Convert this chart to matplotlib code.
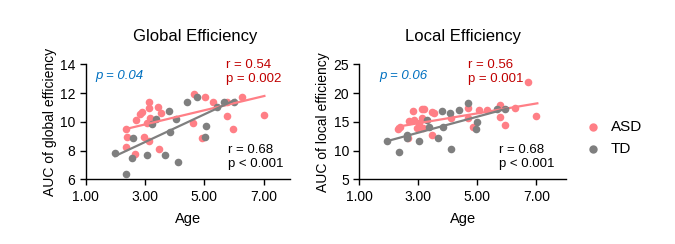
import numpy as np
import matplotlib.pyplot as plt

plt.rcParams['font.family'] = ['Liberation Sans', 'DejaVu Sans']

# Global efficiency: ASD group
glob_asd_age = [2.35, 2.38, 2.35, 2.67, 2.69, 2.84, 2.91, 3.12, 3.15, 3.17, 3.06, 2.95, 3.14,
                3.43, 3.54, 3.48, 4.64, 4.61, 4.92, 5.03, 5.31, 5.76, 5.78, 5.96, 6.29, 7.00]
glob_asd_val = [9.50, 8.92, 8.22, 7.76, 10.13, 10.54, 10.66, 11.35, 10.94, 10.24, 9.89, 8.92, 8.69,
                11.05, 10.59, 8.08, 11.91, 9.89, 8.90, 11.75, 11.40, 11.40, 10.40, 9.50, 11.75, 10.47]
# Global efficiency: TD group
glob_td_age = [1.99, 2.35, 2.59, 2.55, 3.06, 3.23, 3.38, 3.66, 3.81, 3.85, 4.04, 4.11, 4.41,
               4.75, 5.06, 5.03, 5.42, 5.65, 5.99]
glob_td_val = [7.81, 6.39, 8.90, 7.51, 7.67, 9.85, 10.17, 7.67, 10.73, 9.31, 10.22, 7.23, 11.40,
               11.75, 9.71, 8.92, 11.05, 11.40, 11.40]
# fit lines (end points)
glob_asd_fit_x = [2.35, 7.03]
glob_asd_fit_y = [9.50, 11.80]
glob_td_fit_x = [1.99, 6.04]
glob_td_fit_y = [7.62, 11.52]

# Local efficiency: ASD group
loc_asd_age = [2.32, 2.38, 2.66, 2.68, 2.81, 2.85, 2.94, 3.03, 3.11, 3.20, 3.11, 3.16, 3.45,
               3.53, 3.45, 4.12, 4.67, 4.69, 4.86, 5.05, 5.33, 5.76, 5.76, 5.93, 6.27, 7.00, 6.72]
loc_asd_val = [13.70, 14.15, 12.13, 15.14, 16.88, 15.31, 13.87, 14.74, 17.23, 17.23, 15.71, 13.97, 16.76,
               16.48, 12.70, 15.60, 17.45, 15.61, 14.15, 17.05, 17.05, 17.92, 15.89, 14.44, 17.35, 15.95, 21.86]
# Local efficiency: TD group
loc_td_age = [1.95, 2.34, 2.60, 2.62, 3.03, 3.28, 3.37, 3.67, 3.81, 4.07, 3.82, 4.09, 4.37,
              4.69, 5.00, 4.94, 5.65, 5.93]
loc_td_val = [11.66, 9.80, 12.70, 12.20, 11.66, 15.31, 14.15, 12.13, 16.88, 16.48, 14.15, 10.27, 17.05,
              18.22, 15.02, 13.75, 17.23, 17.23]
loc_asd_fit_x = [2.29, 7.03]
loc_asd_fit_y = [14.15, 18.22]
loc_td_fit_x = [1.95, 6.04]
loc_td_fit_y = [11.66, 17.35]

pink = '#FF7F86'
gray = '#7F7F7F'
blue = '#0070C0'
red = '#C00000'


def panel(ax, asd_x, asd_y, td_x, td_y, afx, afy, tfx, tfy, ylim, yticks, xmax,
          title, title_x, ylabel, p_txt, p_x, r_asd, r_asd_x, r_td, r_td_x):
    ax.scatter(asd_x, asd_y, s=30, color=pink, zorder=3, linewidths=0, label='ASD')
    ax.scatter(td_x, td_y, s=30, color=gray, zorder=3, linewidths=0, label='TD')
    ax.plot(afx, afy, color=pink, lw=1.6, zorder=4)
    ax.plot(tfx, tfy, color=gray, lw=1.6, zorder=4)
    ax.set_xlim(1, xmax)
    ax.set_ylim(*ylim)
    ax.set_xticks([1, 3, 5, 7])
    ax.set_xticklabels(['1.00', '3.00', '5.00', '7.00'])
    ax.set_yticks(yticks)
    ax.tick_params(labelsize=10, length=4, direction='out', width=1)
    for s in ['top', 'right']:
        ax.spines[s].set_visible(False)
    for s in ['left', 'bottom']:
        ax.spines[s].set_linewidth(1)
    ax.set_xlabel('Age', fontsize=10.5, labelpad=6)
    ax.set_ylabel(ylabel, fontsize=10, labelpad=2)
    ax.set_title(title, fontsize=12, pad=17, x=title_x)
    ax.text(p_x, 0.9, p_txt, transform=ax.transAxes, color=blue, style='italic',
            fontsize=9.5, va='center')
    ax.text(r_asd_x, 1.05, r_asd, transform=ax.transAxes, color=red, fontsize=9.5,
            va='top', linespacing=1.25)
    ax.text(r_td_x, 0.31, r_td, transform=ax.transAxes, color='black', fontsize=9.5,
            va='top', linespacing=1.25)


fig = plt.figure(figsize=(6.75, 2.44), dpi=100)
ax1 = fig.add_axes([0.127, 0.265, 0.302, 0.4713])
ax2 = fig.add_axes([0.5323, 0.265, 0.3062, 0.4713])

panel(ax1, glob_asd_age, glob_asd_val, glob_td_age, glob_td_val,
      glob_asd_fit_x, glob_asd_fit_y, glob_td_fit_x, glob_td_fit_y,
      (6, 14), [6, 8, 10, 12, 14], 7.88, 'Global Efficiency', 0.537, 'AUC of global efficiency',
      'p = 0.04', 0.046, 'r = 0.54\np = 0.002', 0.689, 'r = 0.68\np < 0.001', 0.697)
panel(ax2, loc_asd_age, loc_asd_val, loc_td_age, loc_td_val,
      loc_asd_fit_x, loc_asd_fit_y, loc_td_fit_x, loc_td_fit_y,
      (5, 25), [5, 10, 15, 20, 25], 8.0, 'Local Efficiency', 0.5, 'AUC of local efficiency',
      'p = 0.06', 0.097, 'r = 0.56\np = 0.001', 0.527, 'r = 0.68\np < 0.001', 0.677)

h, l = ax1.get_legend_handles_labels()
fig.legend(h, l, loc='center left', bbox_to_anchor=(0.835, 0.435), frameon=False,
           fontsize=11, handletextpad=0.2, labelspacing=0.55, markerscale=1.1)

fig.savefig('out.png', dpi=100)
